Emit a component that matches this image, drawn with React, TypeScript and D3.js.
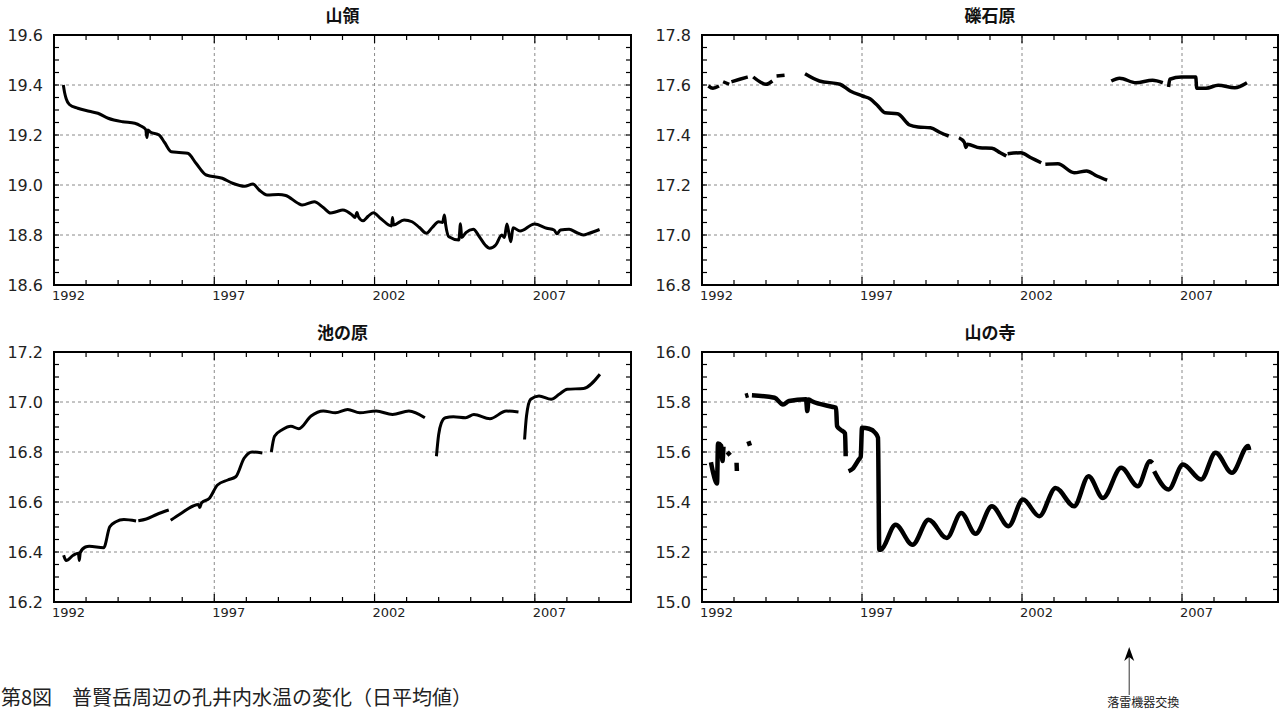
import { useEffect, useRef } from 'react';
import * as d3 from 'd3';

type Pt = [number, number];

const W = 1284;
const H = 711;

const xDomain: [number, number] = [1992, 2010];
const yearLabels = [1992, 1997, 2002, 2007];
const titles = ['山領', '礫石原', '池の原', '山の寺'];
const yDomains: [number, number][] = [[18.6, 19.6], [16.8, 17.8], [16.2, 17.2], [15.0, 16.0]];
const caption = '第8図　普賢岳周辺の孔井内水温の変化（日平均値）';
const noteText = '落雷機器交換';
const noteYear = 2005.35;

// 山領
const sanryo: Pt[][] = [[
  [1992.29, 19.4], [1992.33, 19.37], [1992.38, 19.345], [1992.48, 19.322], [1992.74, 19.307],
  [1993.1, 19.295], [1993.37, 19.287], [1993.69, 19.267], [1994.14, 19.253], [1994.52, 19.247],
  [1994.71, 19.236], [1994.86, 19.222], [1994.9, 19.19], [1994.93, 19.22], [1995.0, 19.212],
  [1995.28, 19.2], [1995.45, 19.17], [1995.66, 19.133], [1995.9, 19.13], [1996.17, 19.127],
  [1996.43, 19.087], [1996.75, 19.04], [1997.25, 19.027], [1997.57, 19.007], [1997.95, 18.995],
  [1998.21, 19.004], [1998.4, 18.98], [1998.65, 18.96], [1999.0, 18.962], [1999.23, 18.958],
  [1999.61, 18.927], [1999.74, 18.92], [2000.12, 18.933], [2000.4, 18.91], [2000.63, 18.888],
  [2000.8, 18.893], [2001.01, 18.9], [2001.3, 18.88], [2001.39, 18.87], [2001.45, 18.89],
  [2001.5, 18.872], [2001.64, 18.857], [2001.8, 18.875], [2001.96, 18.889], [2002.2, 18.865],
  [2002.53, 18.836], [2002.56, 18.87], [2002.59, 18.84], [2002.92, 18.86], [2003.17, 18.853],
  [2003.4, 18.83], [2003.62, 18.807], [2003.8, 18.83], [2004.0, 18.853], [2004.12, 18.85],
  [2004.18, 18.88], [2004.22, 18.84], [2004.32, 18.793], [2004.63, 18.78], [2004.68, 18.845],
  [2004.72, 18.79], [2004.85, 18.81], [2005.08, 18.823], [2005.27, 18.793], [2005.45, 18.76],
  [2005.59, 18.747], [2005.78, 18.76], [2005.97, 18.8], [2006.05, 18.79], [2006.13, 18.844],
  [2006.2, 18.8], [2006.25, 18.773], [2006.32, 18.829], [2006.54, 18.816], [2006.99, 18.844],
  [2007.37, 18.827], [2007.6, 18.82], [2007.69, 18.805], [2007.8, 18.82], [2008.07, 18.823],
  [2008.3, 18.81], [2008.51, 18.8], [2008.7, 18.807], [2009.02, 18.822],
]];

// 礫石原
const rekisekibara: Pt[][] = [
  [[1992.2, 17.596], [1992.34, 17.587], [1992.53, 17.596]],
  [[1992.66, 17.613], [1992.85, 17.603]],
  [[1992.92, 17.613], [1993.18, 17.623], [1993.43, 17.632]],
  [[1993.6, 17.632], [1993.82, 17.612], [1994.0, 17.603], [1994.2, 17.616]],
  [[1994.33, 17.636], [1994.58, 17.639]],
  [[1995.22, 17.645], [1995.67, 17.616], [1996.31, 17.603], [1996.63, 17.576], [1997.02, 17.556],
    [1997.25, 17.545], [1997.47, 17.52], [1997.72, 17.489], [1998.11, 17.485], [1998.49, 17.44],
    [1998.75, 17.432], [1999.14, 17.429], [1999.46, 17.409], [1999.71, 17.396]],
  [[2000.03, 17.389], [2000.2, 17.37], [2000.25, 17.35], [2000.29, 17.363], [2000.68, 17.349],
    [2001.06, 17.347], [2001.32, 17.329], [2001.51, 17.316]],
  [[2001.55, 17.325], [2001.96, 17.329], [2002.28, 17.309], [2002.6, 17.289]],
  [[2002.73, 17.283], [2003.12, 17.285], [2003.63, 17.249], [2004.02, 17.256], [2004.34, 17.236],
    [2004.66, 17.219]],
  [[2004.79, 17.616], [2005.05, 17.627], [2005.56, 17.609], [2006.08, 17.619], [2006.4, 17.609]],
  [[2006.58, 17.592], [2006.62, 17.623], [2006.98, 17.632], [2007.43, 17.632], [2007.46, 17.587],
    [2007.75, 17.587], [2008.13, 17.599], [2008.65, 17.589], [2009.03, 17.609]],
];

// 池の原
const ikenohara: Pt[][] = [
  [[1992.3, 16.387], [1992.38, 16.366], [1992.6, 16.387], [1992.76, 16.395], [1992.79, 16.366],
    [1992.82, 16.398], [1992.98, 16.42], [1993.1, 16.423], [1993.55, 16.417], [1993.74, 16.501],
    [1993.93, 16.521], [1994.18, 16.53], [1994.56, 16.524]],
  [[1994.63, 16.525], [1994.88, 16.532], [1995.2, 16.55], [1995.58, 16.568]],
  [[1995.64, 16.527], [1995.96, 16.554], [1996.34, 16.584], [1996.5, 16.59], [1996.55, 16.578],
    [1996.6, 16.596], [1996.85, 16.615], [1997.1, 16.668], [1997.42, 16.688], [1997.67, 16.701],
    [1997.93, 16.775], [1998.18, 16.8], [1998.5, 16.796]],
  [[1998.78, 16.8], [1998.88, 16.863], [1999.13, 16.89], [1999.39, 16.903], [1999.64, 16.893],
    [2000.02, 16.944], [2000.4, 16.964], [2000.78, 16.957], [2001.16, 16.97], [2001.54, 16.957],
    [2002.05, 16.964], [2002.56, 16.95], [2003.07, 16.964], [2003.57, 16.937]],
  [[2003.93, 16.783], [2004.0, 16.87], [2004.08, 16.915], [2004.21, 16.937], [2004.46, 16.941],
    [2004.84, 16.937], [2005.1, 16.95], [2005.6, 16.933], [2006.11, 16.964], [2006.49, 16.96]],
  [[2006.68, 16.85], [2006.74, 16.944], [2006.87, 17.011], [2007.13, 17.024], [2007.51, 17.011],
    [2007.76, 17.031], [2008.01, 17.051], [2008.52, 17.054], [2009.03, 17.111]],
];

// 山の寺
const yamanotera: Pt[][] = [
  [[1992.28, 15.559], [1992.35, 15.516], [1992.47, 15.474], [1992.5, 15.634], [1992.6, 15.625],
    [1992.64, 15.564], [1992.67, 15.621]],
  [[1992.79, 15.6], [1992.88, 15.587]],
  [[1993.08, 15.557], [1993.09, 15.524]],
  [[1993.45, 15.643], [1993.5, 15.625]],
  [[1993.35, 15.824], [1993.45, 15.828]],
  [[1993.56, 15.827], [1994.27, 15.817], [1994.53, 15.79], [1994.72, 15.804], [1995.25, 15.811],
    [1995.29, 15.764], [1995.33, 15.81], [1995.42, 15.804], [1996.06, 15.781], [1996.19, 15.777],
    [1996.22, 15.704], [1996.32, 15.69], [1996.47, 15.674], [1996.49, 15.583]],
  [[1996.58, 15.523], [1996.71, 15.533], [1996.9, 15.57], [1996.96, 15.581], [1997.0, 15.697],
    [1997.22, 15.693], [1997.41, 15.677], [1997.5, 15.657], [1997.54, 15.209], [1997.6, 15.21],
    [1998.05, 15.309], [1998.58, 15.229], [1999.08, 15.329], [1999.65, 15.256], [2000.1, 15.356],
    [2000.55, 15.273], [2001.06, 15.383], [2001.58, 15.303], [2002.03, 15.41], [2002.54, 15.343],
    [2003.05, 15.456], [2003.63, 15.383], [2004.08, 15.503], [2004.53, 15.416], [2005.1, 15.537],
    [2005.62, 15.463], [2006.0, 15.563], [2006.08, 15.556]],
  [[2006.13, 15.523], [2006.58, 15.45], [2007.03, 15.55], [2007.6, 15.49], [2008.05, 15.597],
    [2008.56, 15.517], [2009.07, 15.624], [2009.1, 15.608]],
];

const panelData = [sanryo, rekisekibara, ikenohara, yamanotera];
const strokeWidths = [3, 3.5, 3, 4.5];

const cols: [number, number][] = [[54, 631], [702, 1278]];
const rows: [number, number][] = [[35, 285], [352, 602]];

const numFont = '"DejaVu Sans", Verdana, sans-serif';
const jpFont = '"Noto Sans CJK JP", "Noto Sans", sans-serif';

function drawChart(el: SVGSVGElement) {
  const svg = d3.select(el);
  svg.selectAll('*').remove();

  panelData.forEach((segments, i) => {
    const [x0, x1] = cols[i % 2];
    const [y0, y1] = rows[Math.floor(i / 2)];
    const x = d3.scaleLinear().domain(xDomain).range([x0, x1]);
    const y = d3.scaleLinear().domain(yDomains[i]).range([y1, y0]);
    const g = svg.append('g');

    // grid
    yearLabels.slice(1).forEach((yr) => {
      g.append('line')
        .attr('x1', x(yr)).attr('x2', x(yr))
        .attr('y1', y0).attr('y2', y1)
        .attr('stroke', '#8a8a8a').attr('stroke-width', 1)
        .attr('stroke-dasharray', '3,3');
    });
    const majorY = y.ticks(5).slice(1, -1);
    majorY.forEach((v) => {
      g.append('line')
        .attr('x1', x0).attr('x2', x1)
        .attr('y1', y(v)).attr('y2', y(v))
        .attr('stroke', '#8a8a8a').attr('stroke-width', 1)
        .attr('stroke-dasharray', '3,3');
    });

    // inward ticks
    d3.range(1993, 2010).forEach((yr) => {
      const len = yearLabels.includes(yr) ? 8 : 5;
      g.append('line').attr('x1', x(yr)).attr('x2', x(yr))
        .attr('y1', y1).attr('y2', y1 - len).attr('stroke', '#000').attr('stroke-width', 1.2);
      g.append('line').attr('x1', x(yr)).attr('x2', x(yr))
        .attr('y1', y0).attr('y2', y0 + len).attr('stroke', '#000').attr('stroke-width', 1.2);
    });
    y.ticks(20).slice(1, -1).forEach((v) => {
      g.append('line').attr('x1', x0).attr('x2', x0 + 5)
        .attr('y1', y(v)).attr('y2', y(v)).attr('stroke', '#000').attr('stroke-width', 1.2);
      g.append('line').attr('x1', x1).attr('x2', x1 - 5)
        .attr('y1', y(v)).attr('y2', y(v)).attr('stroke', '#000').attr('stroke-width', 1.2);
    });

    // data
    const line = d3.line<Pt>()
      .x((d) => x(d[0]))
      .y((d) => y(d[1]))
      .curve(d3.curveMonotoneX);
    g.selectAll('path.seg')
      .data(segments)
      .enter()
      .append('path')
      .attr('class', 'seg')
      .attr('d', (d) => line(d))
      .attr('fill', 'none')
      .attr('stroke', '#000')
      .attr('stroke-width', strokeWidths[i])
      .attr('stroke-linejoin', 'round');

    // frame
    g.append('rect')
      .attr('x', x0).attr('y', y0)
      .attr('width', x1 - x0).attr('height', y1 - y0)
      .attr('fill', 'none').attr('stroke', '#000').attr('stroke-width', 2);

    // labels
    y.ticks(5).forEach((v) => {
      g.append('text')
        .attr('x', x0 - 11).attr('y', y(v))
        .attr('text-anchor', 'end').attr('dominant-baseline', 'central')
        .style('font-family', numFont).style('font-size', '16px').style('fill', '#222')
        .text(d3.format('.1f')(v));
    });
    yearLabels.forEach((yr) => {
      g.append('text')
        .attr('x', x(yr) - 2).attr('y', y1 + 15)
        .attr('text-anchor', 'start')
        .style('font-family', numFont).style('font-size', '13px').style('fill', '#222')
        .text(String(yr));
    });
    g.append('text')
      .attr('x', (x0 + x1) / 2).attr('y', y0 - 13)
      .attr('text-anchor', 'middle')
      .style('font-family', jpFont).style('font-size', '17px').style('font-weight', 'bold')
      .style('fill', '#111')
      .text(titles[i]);

    if (i === 3) {
      const ax = x(noteYear);
      const tip = 647;
      g.append('line').attr('x1', ax).attr('x2', ax).attr('y1', tip + 8).attr('y2', 695)
        .attr('stroke', '#333').attr('stroke-width', 1);
      g.append('path')
        .attr('d', `M${ax},${tip} L${ax + 5},${tip + 14} L${ax},${tip + 10} L${ax - 5},${tip + 14} Z`)
        .attr('fill', '#000');
      g.append('text')
        .attr('x', ax + 14).attr('y', 707)
        .attr('text-anchor', 'middle')
        .style('font-family', jpFont).style('font-size', '12px').style('fill', '#222')
        .text(noteText);
    }
  });

  svg.append('text')
    .attr('x', 1).attr('y', 705)
    .style('font-family', jpFont).style('font-size', '20px').style('fill', '#222')
    .text(caption);
}

export default function App() {
  const ref = useRef<SVGSVGElement>(null);
  useEffect(() => {
    if (ref.current) drawChart(ref.current);
  }, []);
  return (
    <svg
      ref={ref}
      width={W}
      height={H}
      style={{ position: 'absolute', left: 0, top: 0, background: '#fff' }}
    />
  );
}
